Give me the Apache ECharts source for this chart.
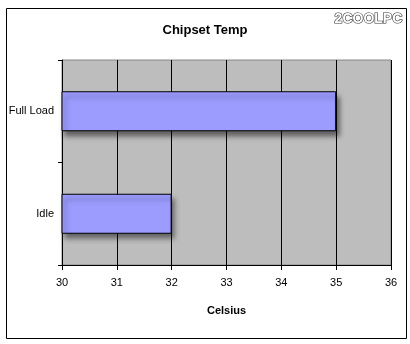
<!DOCTYPE html>
<html><head><meta charset="utf-8">
<script src="https://cdn.jsdelivr.net/npm/echarts@6/dist/echarts.min.js"></script>
<style>html,body{margin:0;padding:0;background:#fff}#c{width:410px;height:344px}</style>
</head><body><div id="c"></div>
<script>
var categories = ['Idle', 'Full Load'];
var values = [32, 35];
var xTicks = [30, 31, 32, 33, 34, 35, 36];
var titleText = 'Chipset Temp';
var xName = 'Celsius';

var chart = echarts.init(document.getElementById('c'), null, {renderer: 'canvas'});
var font = 'Liberation Sans, Arial, sans-serif';
chart.setOption({
  animation: false,
  backgroundColor: '#ffffff',
  title: {text: titleText, left: 'center', top: 19,
    textStyle: {fontFamily: font, fontSize: 13, fontWeight: 'bold', color: '#000'}},
  grid: {left: 62, right: 19, top: 60, bottom: 79, show: true,
    backgroundColor: '#bdbdbd', borderColor: '#888888', borderWidth: 1},
  xAxis: [{
    type: 'value', min: xTicks[0], max: xTicks[xTicks.length - 1], interval: 1,
    name: xName, nameLocation: 'middle', nameGap: 40,
    nameTextStyle: {fontFamily: font, fontSize: 11, fontWeight: 'bold', color: '#000'},
    axisLine: {show: true, lineStyle: {color: '#000', width: 1}},
    axisTick: {show: true, length: 5, lineStyle: {color: '#000'}},
    axisLabel: {fontFamily: font, fontSize: 11, color: '#000', margin: 12},
    splitLine: {show: true, lineStyle: {color: '#000', width: 1}}
  }, {
    type: 'value', min: xTicks[0], max: xTicks[xTicks.length - 1], interval: 1,
    position: 'bottom',
    axisLine: {show: false},
    axisTick: {show: true, inside: true, length: 2, lineStyle: {color: '#000'}},
    axisLabel: {show: false}, splitLine: {show: false}
  }],
  yAxis: {
    type: 'category', data: categories,
    axisLine: {show: true, lineStyle: {color: '#000', width: 1}},
    axisTick: {show: true, length: 4, alignWithLabel: false, lineStyle: {color: '#000'}},
    axisLabel: {fontFamily: font, fontSize: 11, color: '#000', margin: 8},
    splitLine: {show: false}
  },
  series: [{
    type: 'bar', data: values, barWidth: 40, xAxisIndex: 0,
    itemStyle: {color: '#9c9cff', borderColor: '#000', borderWidth: 1,
      shadowColor: 'rgba(0,0,0,0.5)', shadowBlur: 5, shadowOffsetX: 3, shadowOffsetY: 5}
  }],
  graphic: [
    {type: 'rect', left: 4, top: 6, shape: {x: 0, y: 0, width: 400, height: 330},
      style: {fill: 'none', stroke: '#000', lineWidth: 1}, silent: true, z: 100},
    {type: 'text', left: 334, top: 12,
      style: {text: '2COOLPC', fill: '#ffffff', stroke: '#333333', lineWidth: 1.2,
        font: 'bold 14px "Liberation Sans", sans-serif'}, z: 100}
  ]
});
</script></body></html>
